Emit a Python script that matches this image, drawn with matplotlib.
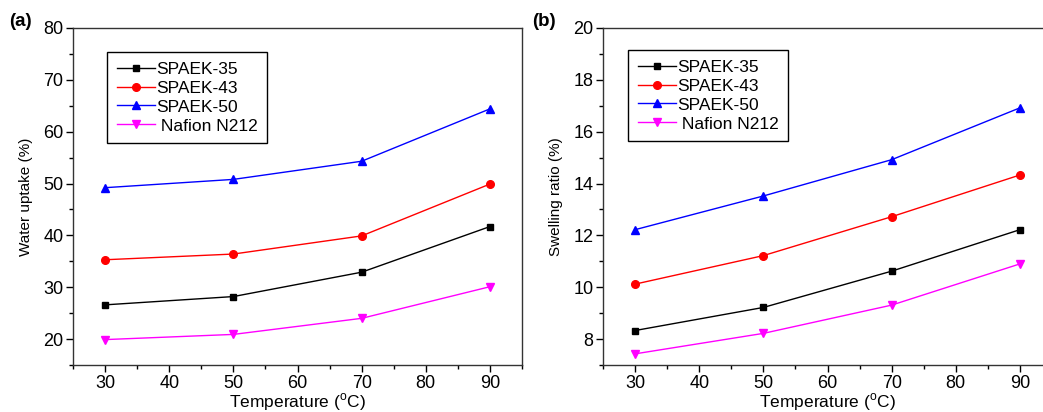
import matplotlib
matplotlib.use('Agg')
import matplotlib.pyplot as plt
from matplotlib.ticker import MultipleLocator

plt.rcParams['font.family'] = ['Liberation Sans', 'DejaVu Sans']
plt.rcParams['mathtext.fontset'] = 'custom'
plt.rcParams['mathtext.rm'] = 'Liberation Sans'
plt.rcParams['font.size'] = 12

# Data
temps = [30, 50, 70, 90]
labels = ['SPAEK-35', 'SPAEK-43', 'SPAEK-50', ' Nafion N212']
uptake_35 = [26.6, 28.2, 32.9, 41.7]
uptake_43 = [35.3, 36.4, 39.9, 49.9]
uptake_50 = [49.2, 50.8, 54.3, 64.4]
uptake_nafion = [19.9, 20.9, 24.0, 30.1]
swell_35 = [8.33, 9.22, 10.62, 12.22]
swell_43 = [10.12, 11.22, 12.72, 14.33]
swell_50 = [12.22, 13.52, 14.92, 16.92]
swell_nafion = [7.43, 8.22, 9.31, 10.9]

colors = ['black', 'red', 'blue', 'magenta']
markers = ['s', 'o', '^', 'v']
msizes = [4.8, 5.5, 6, 6]

fig = plt.figure(figsize=(10.43, 4.12), dpi=100)
W, H = 1043, 412
ax1 = fig.add_axes([73 / W, 47 / H, 449 / W, 337 / H])
ax2 = fig.add_axes([603 / W, 47 / H, 449 / W, 337 / H])


def style(ax, ylim, major, minor, ylabel, legend_anchor):
    ax.set_xlim(25, 95)
    ax.set_ylim(*ylim)
    ax.xaxis.set_major_locator(MultipleLocator(10))
    ax.xaxis.set_minor_locator(MultipleLocator(5))
    ax.yaxis.set_major_locator(MultipleLocator(major))
    ax.yaxis.set_minor_locator(MultipleLocator(minor))
    ax.tick_params(which='major', direction='out', length=5, width=1, pad=2,
                   labelsize=13)
    ax.tick_params(which='minor', direction='out', length=3, width=1)
    ax.tick_params(top=False, right=False, which='both')
    for s in ax.spines.values():
        s.set_color('#333333')
        s.set_linewidth(1)
    ax.set_xlabel(r'Temperature ($^{\rm o}$C)', fontsize=12.5, labelpad=0)
    ax.set_ylabel(ylabel, fontsize=11, labelpad=7)
    leg = ax.legend(loc='upper left', bbox_to_anchor=legend_anchor, borderaxespad=0,
                    fancybox=False, edgecolor='black', framealpha=1,
                    fontsize=12.5, handlelength=2.2, handletextpad=0.05,
                    labelspacing=0.22, borderpad=0.55)
    leg.get_frame().set_linewidth(1)


for ys, c, m, ms, lab in zip([uptake_35, uptake_43, uptake_50, uptake_nafion],
                             colors, markers, msizes, labels):
    ax1.plot(temps, ys, color=c, marker=m, ms=ms, lw=1, label=lab)
for ys, c, m, ms, lab in zip([swell_35, swell_43, swell_50, swell_nafion],
                             colors, markers, msizes, labels):
    ax2.plot(temps, ys, color=c, marker=m, ms=ms, lw=1, label=lab)

style(ax1, (15, 80), 10, 5, 'Water uptake (%)', (0.076, 0.929))
style(ax2, (7, 20), 2, 1, 'Swelling ratio (%)', (0.056, 0.935))

fig.text(9 / W, 1 - 22 / H, '(a)', fontsize=13.5, fontweight='bold', va='center')
fig.text(532 / W, 1 - 22 / H, '(b)', fontsize=13.5, fontweight='bold', va='center')

fig.savefig('out.png', dpi=100)
